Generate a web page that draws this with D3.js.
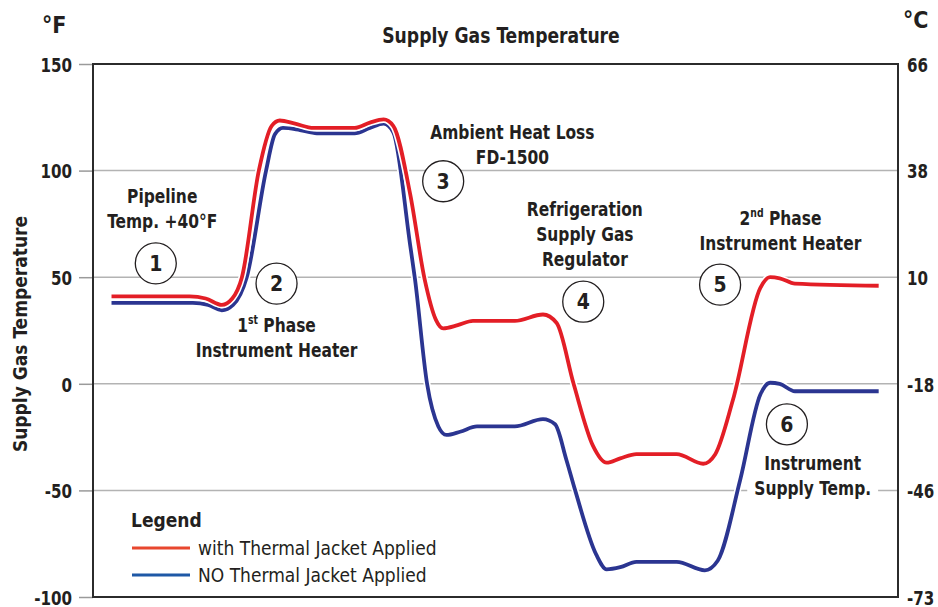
<!DOCTYPE html>
<html>
<head>
<meta charset="utf-8">
<script src="https://cdn.jsdelivr.net/npm/d3@7"></script>
<style>
  body { margin: 0; background: #ffffff; }
  svg text { font-family: "Liberation Sans Narrow", "DejaVu Sans Condensed", "Arial Narrow", sans-serif; fill: #231f20; }
</style>
</head>
<body>
<script>
var SVG_WIDTH = 938;
var SVG_HEIGHT = 607;
var PLOT = { left: 93, right: 898, top: 64, bottom: 597 };

// time axis is unlabelled, 0..100 across the frame
// with thermal jacket (red)
var redTime = [2.3, 12.0, 14.0, 16.0, 17.3, 18.5, 20.6, 22.2, 23.2, 25.1, 27.4, 32.5, 34.4, 36.1, 37.3, 39.4, 41.2, 42.6, 43.5, 45.3, 47.2, 52.4, 55.9, 57.6, 59.7, 62.1, 63.8, 65.5, 67.5, 72.5, 75.8, 77.3, 79.5, 82.9, 84.1, 85.3, 87.2, 97.6];
var redTemp = [41, 41, 40, 37, 40, 50, 100, 121, 123.5, 122, 120, 120, 122.5, 124, 121, 89, 49, 30, 26, 27.5, 29.5, 29.5, 32.5, 28.5, 0, -29, -37, -35, -33, -33, -37.5, -33, -7.5, 45, 50, 49.5, 47, 46];

// without thermal jacket (blue)
var blueTime = [2.3, 12.4, 14.3, 16.0, 17.4, 19.1, 21.5, 22.6, 23.6, 25.7, 27.8, 32.5, 34.4, 36.1, 37.3, 39.4, 40.0, 41.5, 42.9, 43.9, 45.6, 47.7, 52.4, 55.9, 57.4, 58.8, 59.9, 62.5, 63.8, 65.5, 67.5, 72.5, 76.0, 77.6, 80.4, 82.9, 84.1, 85.3, 87.2, 97.6];
var blueTemp = [38, 38, 37, 34.5, 37, 50, 100, 117, 120, 119, 117.5, 117.5, 120, 122, 118, 65, 49, 0, -20, -24, -22.5, -20, -20, -16.6, -19, -35.6, -50, -80, -87, -86, -83.5, -83.5, -87.5, -83, -45, -5, 0.5, 0, -3.5, -3.5];

var tickF = [-100, -50, 0, 50, 100, 150];

var seriesNames = ["with Thermal Jacket Applied", "NO Thermal Jacket Applied"];
var seriesColors = ["#e31e26", "#2b3591"];
var legendColors = ["#e8472e", "#1e58a6"];

// numbered call-outs: [time, temp]
var markerNumbers = ["1", "2", "3", "4", "5", "6"];
var markerTime = [7.8, 22.8, 43.5, 60.9, 77.9, 86.2];
var markerTemp = [56.5, 47, 95, 38.5, 46.5, -19];

// call-out texts: lines, centre [time, temp of first baseline]
var noteLines = [
  ["Pipeline", "Temp. +40\u00b0F"],
  ["1|st| Phase", "Instrument Heater"],
  ["Ambient Heat Loss", "FD-1500"],
  ["Refrigeration", "Supply Gas", "Regulator"],
  ["2|nd| Phase", "Instrument Heater"],
  ["Instrument", "Supply Temp."]
];
var noteTime = [8.6, 22.8, 52.1, 61.1, 85.4, 89.4];
var noteTemp = [85, 24.5, 115, 78.5, 74.5, -40.3];
var noteBox = [false, false, false, false, false, true];

var svg, x, y;

// narrow the DejaVu glyphs toward the condensed face of the original
function squeeze(sel, sx)
{
  sel.each(function()
  {
    var t = d3.select(this);
    var tx = +t.attr("x") || 0;
    var ty = +t.attr("y") || 0;
    var old = t.attr("transform") || "";
    t.attr("x", null).attr("y", null)
     .attr("transform", old + " translate(" + tx + "," + ty + ") scale(" + sx + ",1)");
  });
}

function setupScales()
{
  x = d3.scaleLinear().domain([0, 100]).range([PLOT.left, PLOT.right]);
  y = d3.scaleLinear().domain([-100, 150]).range([PLOT.bottom, PLOT.top]);
}

function setupAxes()
{
  // grid
  svg.append("g").attr("class", "grid")
     .selectAll("line").data(tickF).enter().append("line")
     .attr("x1", PLOT.left).attr("x2", PLOT.right)
     .attr("y1", function(d) { return y(d); })
     .attr("y2", function(d) { return y(d); })
     .style("stroke", "#b3b3b3")
     .style("stroke-width", 1.5);

  var left = svg.append("g")
     .attr("transform", "translate(" + PLOT.left + ",0)")
     .call(d3.axisLeft(y).tickValues(tickF).tickSize(14).tickPadding(7)
           .tickFormat(function(f) { return String(f); }));
  left.select(".domain").remove();
  left.selectAll("line").style("stroke", "#9a9a9a").style("stroke-width", 1.5);
  left.selectAll("text")
      .style("font-size", "20px").style("font-weight", "bold")
      .attr("dy", "0.36em");
  squeeze(left.selectAll("text"), 0.84);

  var right = svg.append("g")
     .attr("transform", "translate(" + PLOT.right + ",0)")
     .call(d3.axisRight(y).tickValues(tickF).tickSize(0).tickPadding(9)
           .tickFormat(function(f) { return String(Math.round((f - 32) * 5 / 9)); }));
  right.select(".domain").remove();
  right.selectAll("text")
       .style("font-size", "20px").style("font-weight", "bold")
       .attr("dy", "0.36em");
  squeeze(right.selectAll("text"), 0.84);

  svg.append("text").attr("x", 42).attr("y", 33)
     .style("font-size", "23px").style("font-weight", "bold").text("\u00b0F");
  svg.append("text").attr("x", 903).attr("y", 28)
     .style("font-size", "23px").style("font-weight", "bold").text("\u00b0C");

  svg.append("text")
     .attr("transform", "translate(27,334) rotate(-90) scale(0.95,1)")
     .attr("text-anchor", "middle")
     .style("font-size", "20px").style("font-weight", "bold")
     .text("Supply Gas Temperature");

  var title = svg.append("text")
     .attr("x", 501).attr("y", 43)
     .attr("text-anchor", "middle")
     .style("font-size", "21px").style("font-weight", "bold")
     .text("Supply Gas Temperature");
  squeeze(title, 0.91);
}

function addLineText(sel, str)
{
  // "a|sup|b" -> superscript piece
  var parts = str.split("|");
  sel.append("tspan").text(parts[0]);
  if (parts.length > 1)
  {
    sel.append("tspan").attr("dy", -8).style("font-size", "12px").text(parts[1]);
    sel.append("tspan").attr("dy", 8).text(parts[2]);
  }
}

function setupNotes()
{
  var notes = svg.append("g").attr("class", "notes");
  noteLines.forEach(function(lines, i)
  {
    var g = notes.append("g");
    lines.forEach(function(line, j)
    {
      var t = g.append("text")
               .attr("x", x(noteTime[i]))
               .attr("y", y(noteTemp[i]) + j * 25)
               .attr("text-anchor", "middle")
               .style("font-size", "20px").style("font-weight", "bold");
      addLineText(t, line);
      squeeze(t, 0.86);
    });
    if (noteBox[i])
    {
      var bb = g.node().getBBox();
      g.insert("rect", "text")
       .attr("x", bb.x - 7).attr("y", bb.y - 3)
       .attr("width", bb.width + 14).attr("height", bb.height + 6)
       .style("fill", "#ffffff");
    }
  });
}

function setupSeries()
{
  var line = d3.line()
               .x(function(d) { return x(d[0]); })
               .y(function(d) { return y(d[1]); })
               .curve(d3.curveMonotoneX);

  var series = [d3.zip(blueTime, blueTemp), d3.zip(redTime, redTemp)];
  var colors = [seriesColors[1], seriesColors[0]];

  series.forEach(function(pts, i)
  {
    svg.append("path").datum(pts)
       .attr("d", line)
       .style("fill", "none")
       .style("stroke", "#ffffff")
       .style("stroke-width", 7)
       .style("stroke-linejoin", "round");
    svg.append("path").datum(pts)
       .attr("d", line)
       .style("fill", "none")
       .style("stroke", colors[i])
       .style("stroke-width", 3.8)
       .style("stroke-linecap", "butt")
       .style("stroke-linejoin", "round");
  });
}

function setupMarkers()
{
  var m = svg.append("g").attr("class", "markers")
             .selectAll("g").data(markerNumbers).enter().append("g")
             .attr("transform", function(d, i) { return "translate(" + x(markerTime[i]) + "," + y(markerTemp[i]) + ")"; });
  m.append("circle").attr("r", 20.5)
   .style("fill", "#ffffff").style("stroke", "#231f20").style("stroke-width", 1.3);
  m.append("text").attr("text-anchor", "middle").attr("dy", "0.36em")
   .style("font-size", "21px").style("font-weight", "bold")
   .text(function(d) { return d; });
}

function setupFrame()
{
  svg.append("rect")
     .attr("x", PLOT.left).attr("y", PLOT.top)
     .attr("width", PLOT.right - PLOT.left).attr("height", PLOT.bottom - PLOT.top)
     .style("fill", "none").style("stroke", "#2b2b2b").style("stroke-width", 2);
}

function setupLegend()
{
  var lg = svg.append("g").attr("class", "legend");
  lg.append("text").attr("x", 131).attr("y", 527)
    .style("font-size", "19px").style("font-weight", "bold").text("Legend");
  seriesNames.forEach(function(name, i)
  {
    var ly = 548 + i * 27;
    lg.append("line").attr("x1", 132).attr("x2", 190).attr("y1", ly).attr("y2", ly)
      .style("stroke", legendColors[i]).style("stroke-width", 3);
    lg.append("text").attr("x", 198).attr("y", ly + 6.5)
      .style("font-size", "19px").text(name);
  });
}

function initializeMainEnvironment()
{
  svg = d3.select("body").append("svg")
          .attr("width", SVG_WIDTH).attr("height", SVG_HEIGHT);
  setupScales();
  setupAxes();
  setupNotes();
  setupSeries();
  setupMarkers();
  setupFrame();
  setupLegend();
}

initializeMainEnvironment();
</script>
</body>
</html>
